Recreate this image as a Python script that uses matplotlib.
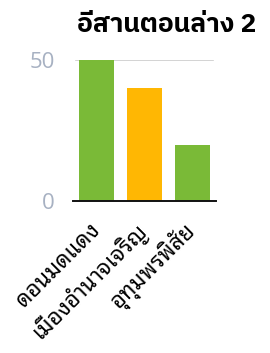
import matplotlib
matplotlib.use("Agg")
import matplotlib.pyplot as plt

# data
districts = ["ดอนมดแดง", "เมืองอำนาจเจริญ", "อุทุมพรพิสัย"]
values = [50, 40, 20]
bar_colors = ["#7aba37", "#ffb703", "#7aba37"]
title = "อีสานตอนล่าง 2"
yticks = [0, 50]

fig = plt.figure(figsize=(2.7, 3.53), dpi=100)
ax = fig.add_axes([0.270, 0.4306, 0.530, 0.3994])

x = range(len(districts))
ax.bar(x, values, width=0.73, color=bar_colors, zorder=2)
ax.set_xlim(-0.5, 2.5)
ax.set_ylim(0, 50)

for s in ("top", "right", "left"):
    ax.spines[s].set_visible(False)
ax.spines["bottom"].set_color("#111111")
ax.spines["bottom"].set_linewidth(1.4)
ax.axhline(50, color="#cccccc", linewidth=1.2, zorder=1, xmin=0.02, xmax=0.98)

ax.set_yticks(yticks)
ax.set_yticklabels([str(v) for v in yticks], fontsize=16, color="#a7b1c2",
                   family=["Open Sans", "DejaVu Sans"])
ax.tick_params(axis="y", length=0, pad=13)
ax.set_xticks(list(x))
ax.set_xticklabels(districts, rotation=45, ha="right", va="center",
                   rotation_mode="anchor", fontsize=16,
                   family=["Noto Sans Thai Looped", "DejaVu Sans"])
ax.tick_params(axis="x", length=0, pad=19)

fig.text(0.617, 0.928, title, ha="center", va="center", fontsize=19,
         weight="bold", family=["IBM Plex Sans Thai", "DejaVu Sans"])

fig.savefig("out.png", dpi=100, facecolor="white")
